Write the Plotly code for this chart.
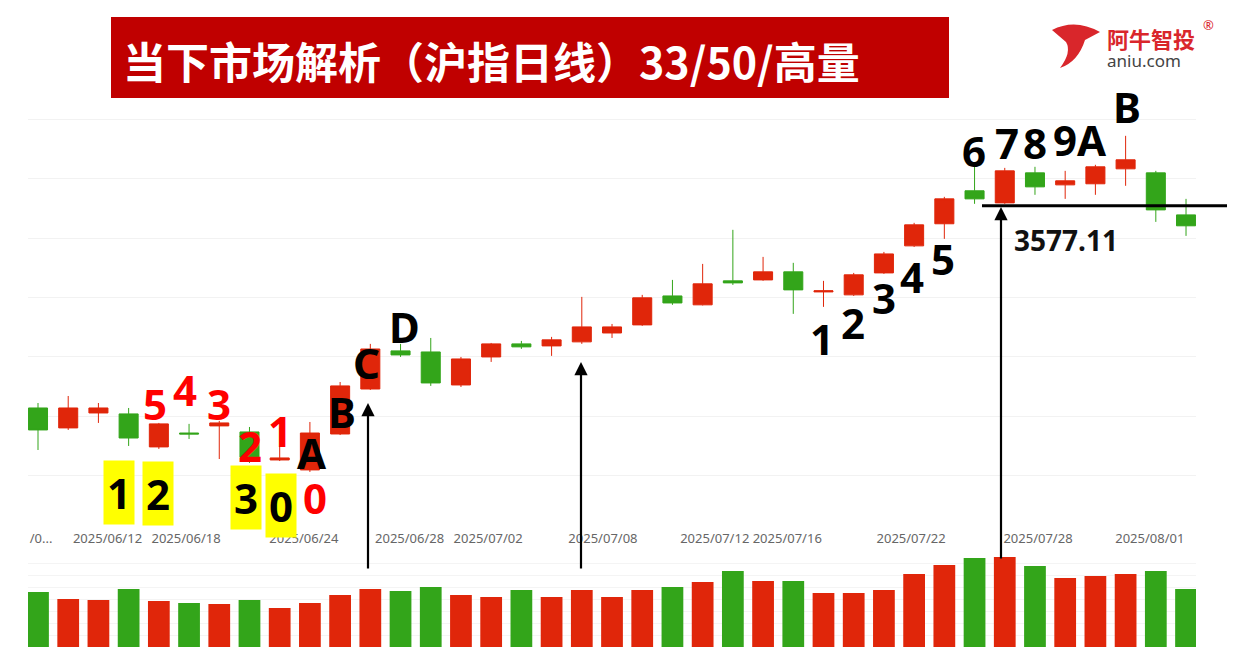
import plotly.graph_objects as go

dates = ['06/11', '06/12', '06/13', '06/16', '06/17', '06/18', '06/19', '06/20', '06/23', '06/24',
         '06/25', '06/26', '06/27', '06/30', '07/01', '07/02', '07/03', '07/04', '07/07', '07/08',
         '07/09', '07/10', '07/11', '07/14', '07/15', '07/16', '07/17', '07/18', '07/21', '07/22',
         '07/23', '07/24', '07/25', '07/28', '07/29', '07/30', '07/31', '08/01', '08/04']
opens = [3406.8, 3390.0, 3402.6, 3401.8, 3374.0, 3385.7, 3391.7, 3386.6, 3363.0, 3354.6,
         3384.9, 3422.8, 3454.9, 3454.0, 3426.2, 3449.8, 3460.8, 3459.1, 3462.5, 3470.0,
         3476.8, 3501.2, 3493.7, 3513.9, 3514.7, 3521.5, 3504.6, 3502.1, 3520.6, 3543.4,
         3562.0, 3589.8, 3579.6, 3604.9, 3594.8, 3595.7, 3608.3, 3604.9, 3569.5]
highs = [3411.0, 3416.9, 3411.0, 3406.8, 3394.2, 3393.4, 3395.9, 3390.8, 3374.8, 3395.0,
         3428.7, 3460.8, 3460.8, 3465.8, 3449.8, 3461.6, 3463.3, 3466.7, 3500.4, 3477.6,
         3502.1, 3514.7, 3528.2, 3556.9, 3534.1, 3529.1, 3513.9, 3520.6, 3538.3, 3562.8,
         3584.7, 3611.7, 3609.1, 3610.0, 3606.6, 3611.7, 3636.1, 3606.6, 3583.0]
lows = [3371.4, 3388.3, 3394.2, 3374.8, 3372.3, 3380.7, 3363.8, 3360.5, 3362.1, 3352.9,
        3384.0, 3422.0, 3449.8, 3425.4, 3424.5, 3445.6, 3456.6, 3450.7, 3460.8, 3465.8,
        3476.0, 3493.7, 3493.2, 3510.5, 3514.0, 3486.1, 3492.0, 3501.2, 3519.8, 3542.5,
        3549.3, 3578.8, 3578.8, 3586.4, 3583.0, 3586.4, 3594.0, 3563.6, 3551.8]
closes = [3388.3, 3406.8, 3406.8, 3381.5, 3393.4, 3384.9, 3394.2, 3365.5, 3364.7, 3385.7,
          3425.4, 3456.5, 3451.5, 3427.9, 3448.1, 3460.8, 3458.3, 3464.2, 3475.1, 3475.1,
          3499.6, 3495.3, 3511.4, 3512.2, 3521.5, 3506.3, 3505.5, 3519.0, 3536.6, 3561.1,
          3583.0, 3583.0, 3606.6, 3593.1, 3598.2, 3610.0, 3615.9, 3573.7, 3560.3]
volumes = [55, 48, 47, 58, 46, 44, 43, 47, 39, 44, 52, 58, 56, 60, 52, 50, 57, 50, 57, 50,
           57, 60, 65, 76, 66, 66, 54, 54, 57, 73, 82, 89, 90, 81, 69, 71, 73, 76, 58]
tick_pos = [0.1, 2.3, 4.9, 8.8, 12.3, 14.9, 18.7, 22.4, 24.8, 28.9, 33.1, 36.8]
tick_text = ['/0...', '2025/06/12', '2025/06/18', '2025/06/24', '2025/06/28', '2025/07/02',
             '2025/07/08', '2025/07/12', '2025/07/16', '2025/07/22', '2025/07/28', '2025/08/01']
support = 3577.11

RED = '#E0260A'
GREEN = '#33A51A'
OFF = 8                      # page body margin
W, H = 1235 - OFF, 671 - OFF
idx = list(range(len(dates)))


def X(px):
    return (px - OFF) / W


def Y(py):
    return 1 - (py - OFF) / H


fig = go.Figure()
fig.add_trace(go.Candlestick(x=idx, open=opens, high=highs, low=lows, close=closes,
                             increasing=dict(line=dict(color=RED, width=1), fillcolor=RED),
                             decreasing=dict(line=dict(color=GREEN, width=1), fillcolor=GREEN),
                             whiskerwidth=0, showlegend=False, hoverinfo='skip'))
bar_colors = [RED if c >= o else GREEN for o, c in zip(opens, closes)]
fig.add_trace(go.Bar(x=idx, y=volumes, marker_color=bar_colors, marker_line_width=0,
                     width=0.72, xaxis='x2', yaxis='y2', showlegend=False))

xr = [-0.331, 38.33]
fig.update_layout(
    width=W, height=H, margin=dict(l=0, r=0, t=0, b=0), boxgap=0.1,
    paper_bgcolor='white', plot_bgcolor='white',
    font=dict(family='Noto Sans'),
    xaxis=dict(domain=[X(28), X(1196)], range=xr, rangeslider_visible=False,
               tickvals=tick_pos, ticktext=tick_text, showgrid=False, zeroline=False,
               tickfont=dict(size=13, color='#666'), ticks=''),
    yaxis=dict(domain=[Y(528.8), Y(60)], range=[3305, 3700], dtick=50,
               showticklabels=False, gridcolor='#F2F2F2', zeroline=False),
    xaxis2=dict(domain=[X(28), X(1196)], range=xr, anchor='y2', showticklabels=False,
                showgrid=False, zeroline=False),
    yaxis2=dict(domain=[Y(647), Y(550)], range=[0, 97], dtick=12,
                showticklabels=False, gridcolor='#F4F4F4', zeroline=False),
)


def note(text, px, py, size, color, xanchor='center', family='Noto Sans', bg=None, pad=0):
    fig.add_annotation(xref='paper', yref='paper', x=X(px), y=Y(py), text=text,
                       xanchor=xanchor, yanchor='middle', showarrow=False,
                       bgcolor=bg, borderpad=pad,
                       font=dict(size=size, color=color, family=family))


# title banner
fig.add_shape(type='rect', xref='paper', yref='paper', x0=X(111), x1=X(949),
              y0=Y(98), y1=Y(17), fillcolor='#C00000', line_width=0)
note('<b>当下市场解析（沪指日线）33/50/高量</b>', 122, 60, 43, 'white', 'left', 'Noto Sans CJK SC')
# logo
fig.add_shape(type='path', xref='paper', yref='paper',
              path=f'M {X(1052)} {Y(30)} Q {X(1075)} {Y(18)} {X(1100)} {Y(32)} '
                   f'L {X(1085)} {Y(40)} Q {X(1078)} {Y(62)} {X(1060)} {Y(68)} '
                   f'Q {X(1072)} {Y(52)} {X(1066)} {Y(42)} Z',
              fillcolor='#D9262B', line_width=0)
note('<b>阿牛智投</b>', 1106, 38, 22, '#D9262B', 'left', 'Noto Sans CJK SC')
note('®', 1202, 25, 13, '#D9262B', 'left')
note('aniu.com', 1106, 61, 17, '#444', 'left')

# support line
fig.add_shape(type='line', xref='paper', yref='y', x0=X(982), x1=1, y0=support, y1=support,
              line=dict(color='black', width=3))
note(f'<b>{support:.2f}</b>', 1013, 240, 28, '#111', 'left')

# arrows
for px, y_tip, y_tail in [(368, 403, 570), (581, 362, 570), (1001, 207, 560)]:
    fig.add_annotation(xref='paper', yref='paper', x=X(px), y=Y(y_tip),
                       ax=0, ay=y_tail - y_tip, text='', showarrow=True, arrowhead=2,
                       arrowwidth=2.2, arrowsize=1.2, arrowcolor='black')

labels = [
    ('5', 155, 403, 'red', None), ('4', 185, 390, 'red', None), ('3', 219, 403, 'red', None),
    ('2', 250, 445, 'red', None), ('1', 280, 430, 'red', None), ('0', 315, 497, 'red', None),
    ('A', 312, 453, 'black', None), ('B', 342, 412, 'black', None), ('C', 366, 362, 'black', None),
    ('D', 404, 326, 'black', None),
    ('1', 119, 493, 'black', '#FFFF00'), ('2', 158, 494, 'black', '#FFFF00'),
    ('3', 246, 497, 'black', '#FFFF00'), ('0', 281, 505, 'black', '#FFFF00'),
    ('1', 822, 338, 'black', None), ('2', 853, 322, 'black', None), ('3', 884, 297, 'black', None),
    ('4', 912, 276, 'black', None), ('5', 943, 258, 'black', None), ('6', 974, 150, 'black', None),
    ('7', 1007, 143, 'black', None), ('8', 1035, 143, 'black', None), ('9A', 1080, 140, 'black', None),
    ('B', 1127, 106, 'black', None),
]
for t, px, py, col, bg in labels:
    note(f'<b>{t}</b>', px, py, 42, col, bg=bg, pad=3 if bg else 0)

fig.write_html('out.html')
